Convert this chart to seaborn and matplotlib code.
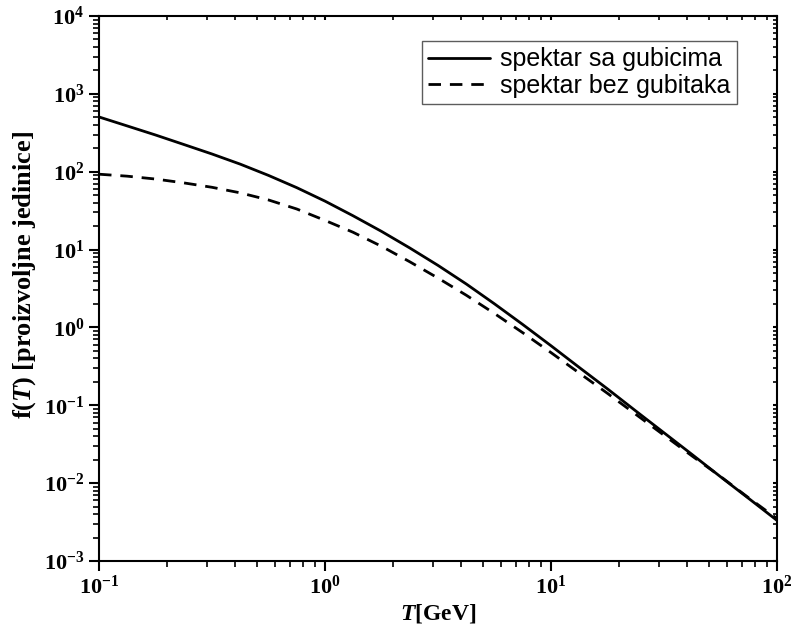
import matplotlib
matplotlib.use("Agg")
import matplotlib.pyplot as plt
import seaborn as sns
import numpy as np
import pandas as pd
from matplotlib.ticker import LogLocator, NullFormatter, FixedLocator

# ---- data ----
T_vals = [0.1, 0.133, 0.178, 0.237, 0.316, 0.422, 0.562, 0.75, 1.0, 1.33,
          1.78, 2.37, 3.16, 4.22, 5.62, 7.5, 10, 13.3, 17.8, 23.7, 31.6,
          42.2, 56.2, 75, 100]
f_loss = [505, 388, 296, 224, 169, 125, 89.7, 62.4, 41.9, 27.2,
          17.1, 10.5, 6.27, 3.61, 2.01, 1.09, 0.582, 0.308, 0.162, 0.0847, 0.0444,
          0.0232, 0.0121, 0.00635, 0.00332]
f_noloss = [92.9, 87.7, 80.5, 71.9, 63.1, 53.5, 43.4, 33.2, 23.7, 16.7,
            11.0, 6.98, 4.31, 2.59, 1.51, 0.855, 0.475, 0.261, 0.142, 0.0767, 0.0413,
            0.0222, 0.0122, 0.00646, 0.0035]
label_loss = "spektar sa gubicima"
label_noloss = "spektar bez gubitaka"
xticks = [0.1, 1, 10, 100]
xticklabels = [r"$\mathbf{10^{-1}}$", r"$\mathbf{10^{0}}$", r"$\mathbf{10^{1}}$", r"$\mathbf{10^{2}}$"]
yticks = [1e-3, 1e-2, 1e-1, 1e0, 1e1, 1e2, 1e3, 1e4]
yticklabels = [r"$\mathbf{10^{-3}}$", r"$\mathbf{10^{-2}}$", r"$\mathbf{10^{-1}}$", r"$\mathbf{10^{0}}$",
               r"$\mathbf{10^{1}}$", r"$\mathbf{10^{2}}$", r"$\mathbf{10^{3}}$", r"$\mathbf{10^{4}}$"]

df1 = pd.DataFrame({"T": T_vals, "f": f_loss})
df2 = pd.DataFrame({"T": T_vals, "f": f_noloss})

sns.set_theme(style="ticks")
plt.rcParams["font.family"] = ["Liberation Serif", "DejaVu Serif"]
plt.rcParams["mathtext.fontset"] = "custom"
plt.rcParams["mathtext.rm"] = "Liberation Serif"
plt.rcParams["mathtext.bf"] = "Liberation Serif:bold"
plt.rcParams["mathtext.it"] = "Liberation Serif:italic"
plt.rcParams["mathtext.bfit"] = "Liberation Serif:italic:bold"
for k in ["text.color", "axes.labelcolor", "xtick.color", "ytick.color", "axes.edgecolor"]:
    plt.rcParams[k] = "black"

fig = plt.figure(figsize=(7.92, 6.39), dpi=100)
ax = fig.add_axes([99/792, 1 - 561/639, (777 - 99)/792, (561 - 16)/639])

sns.lineplot(data=df1, x="T", y="f", ax=ax, color="black", linewidth=2.0,
             label=label_loss, estimator=None, sort=False)
sns.lineplot(data=df2, x="T", y="f", ax=ax, color="black", linewidth=2.0,
             label=label_noloss, estimator=None, sort=False)
ax.lines[1].set_dashes([4.5, 3.2])

ax.set_xscale("log")
ax.set_yscale("log")
ax.set_xlim(0.1, 100)
ax.set_ylim(1e-3, 1e4)

ax.xaxis.set_major_locator(FixedLocator(xticks))
ax.set_xticklabels(xticklabels)
ax.yaxis.set_major_locator(FixedLocator(yticks))
ax.set_yticklabels(yticklabels)
ax.xaxis.set_minor_locator(LogLocator(base=10, subs=np.arange(2, 10), numticks=20))
ax.yaxis.set_minor_locator(LogLocator(base=10, subs=np.arange(2, 10), numticks=20))
ax.xaxis.set_minor_formatter(NullFormatter())
ax.yaxis.set_minor_formatter(NullFormatter())

for s in ax.spines.values():
    s.set_visible(True)
    s.set_linewidth(1.5)
    s.set_color("black")

ax.tick_params(axis="both", which="major", direction="out", length=7.5, width=1.5,
               labelsize=16, colors="black", pad=3)
ax.tick_params(axis="both", which="minor", direction="out", length=4.5, width=1.2)
ax.tick_params(top=True, right=True, which="both")
for t in ax.xaxis.get_major_ticks() + ax.xaxis.get_minor_ticks():
    t.tick2line.set_marker(matplotlib.lines.TICKDOWN)
    t.tick2line.set_markersize(3)
for t in ax.yaxis.get_major_ticks() + ax.yaxis.get_minor_ticks():
    t.tick2line.set_marker(matplotlib.lines.TICKLEFT)
    t.tick2line.set_markersize(3)

ax.set_xlabel(r"$\mathbfit{T}\mathbf{[GeV]}$", fontsize=17, labelpad=2)
ax.set_ylabel(r"$\mathbf{f(}\mathbfit{T}\mathbf{)\ [proizvoljne\ jedinice]}$", fontsize=19)
ax.yaxis.set_label_coords(-0.09, (561 - 275) / 545)

leg = ax.legend(loc="upper right",
                prop={"family": "Liberation Sans", "size": 18},
                frameon=True, fancybox=False, handlelength=2.5, handletextpad=0.4,
                borderpad=0.25, labelspacing=0.1, borderaxespad=0)
leg.get_frame().set_edgecolor("#333333")
leg.get_frame().set_linewidth(1.0)
leg.set_bbox_to_anchor(((737 - 99)/678, (561 - 41)/545), transform=ax.transAxes)
for h in leg.get_lines():
    h.set_linewidth(2.0)

fig.savefig("out.png", dpi=100)
